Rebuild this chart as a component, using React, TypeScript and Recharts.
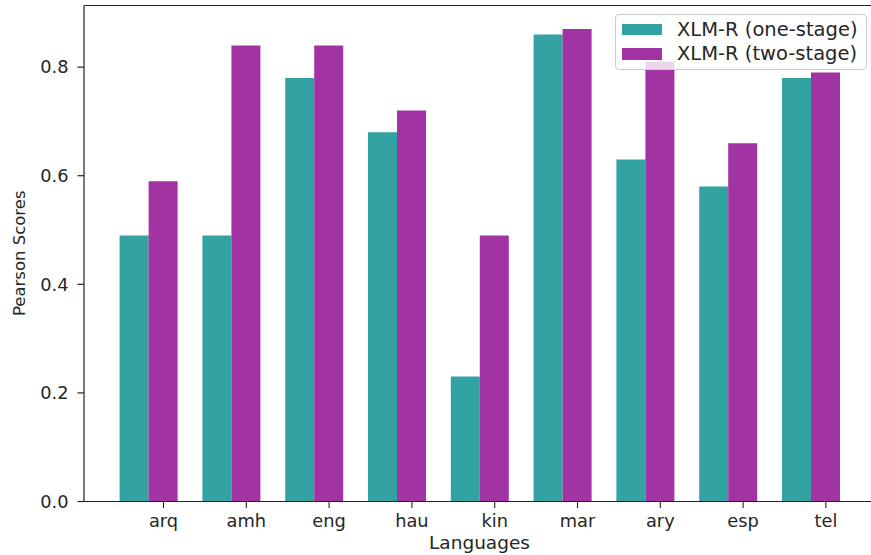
import React from 'react';
import { BarChart, Bar, XAxis, YAxis, ReferenceLine } from 'recharts';

const languages = ['arq', 'amh', 'eng', 'hau', 'kin', 'mar', 'ary', 'esp', 'tel'];
const oneStage = [0.49, 0.49, 0.78, 0.68, 0.23, 0.86, 0.63, 0.58, 0.78];
const twoStage = [0.59, 0.84, 0.84, 0.72, 0.49, 0.87, 0.81, 0.66, 0.79];
const yTicks = [0, 0.2, 0.4, 0.6, 0.8];
const Y_MAX = 0.9135;

const seriesNames = ['XLM-R (one-stage)', 'XLM-R (two-stage)'];
const TEAL = '#33A2A2';
const PURPLE = '#A233A2';
const FONT = '"DejaVu Sans", sans-serif';
const BAR = 29;

const data = languages.map((lang, i) => ({
  lang,
  one: oneStage[i],
  two: twoStage[i],
}));

const XTick = (props: any) => {
  const { x, y, payload } = props;
  const cx = x + BAR / 2;
  return (
    <g>
      <line x1={cx} x2={cx} y1={y} y2={y + 6.5} stroke="#222" strokeWidth={1.1} />
      <text x={cx} y={y + 25.5} textAnchor="middle" fontFamily={FONT} fontSize={17.8} fill="#262626">
        {payload.value}
      </text>
    </g>
  );
};

const LegendBox = () => (
  <div
    style={{
      position: 'absolute',
      left: 615,
      top: 14,
      width: 252,
      height: 56,
      boxSizing: 'border-box',
      background: 'rgba(255,255,255,0.8)',
      border: '1px solid #cccccc',
      borderRadius: 4,
      fontFamily: FONT,
      fontSize: 19.5,
      color: '#262626',
    }}
  >
    {seriesNames.map((name, i) => (
      <div
        key={name}
        style={{ position: 'absolute', left: 0, top: 2 + i * 24.8, height: 24.8, width: 250, display: 'flex', alignItems: 'center' }}
      >
        <div style={{ position: 'absolute', left: 6, width: 39.5, height: 11.5, background: i === 0 ? TEAL : PURPLE }} />
        <div style={{ position: 'absolute', left: 61, lineHeight: 1, whiteSpace: 'nowrap' }}>{name}</div>
      </div>
    ))}
  </div>
);

export default function App() {
  return (
    <div style={{ position: 'absolute', left: 0, top: 0, width: 871, height: 555, overflow: 'hidden', background: '#fff' }}>
      <BarChart
        width={880}
        height={555}
        data={data}
        margin={{ top: 5.5, right: 3.6, bottom: 0, left: 0 }}
        barGap={0}
      >
        <XAxis
          dataKey="lang"
          type="category"
          height={53.5}
          padding={{ left: 23.6, right: 23.6 }}
          tickLine={false}
          tickSize={0}
          tickMargin={0}
          tick={<XTick />}
          stroke="#222"
          strokeWidth={1.2}
          interval={0}
          label={{
            content: () => (
              <text x={479.5} y={549.3} textAnchor="middle" fontFamily={FONT} fontSize={18.5} fill="#262626">
                Languages
              </text>
            ),
          }}
        />
        <YAxis
          type="number"
          domain={[0, Y_MAX]}
          ticks={yTicks}
          width={84}
          tickSize={6.5}
          tickMargin={9}
          tickFormatter={(v: number) => v.toFixed(1)}
          tick={{ fontFamily: FONT, fontSize: 17.8, fill: '#262626' }}
          stroke="#222"
          strokeWidth={1.2}
          allowDataOverflow
          label={{
            content: () => (
              <text transform="translate(25,253.3) rotate(-90)" textAnchor="middle" fontFamily={FONT} fontSize={16.5} fill="#262626">
                Pearson Scores
              </text>
            ),
          }}
        />
        <ReferenceLine y={Y_MAX} stroke="#222" strokeWidth={1.2} ifOverflow="visible" />
        <Bar dataKey="one" name={seriesNames[0]} fill={TEAL} barSize={BAR} isAnimationActive={false} />
        <Bar dataKey="two" name={seriesNames[1]} fill={PURPLE} barSize={BAR} isAnimationActive={false} />
      </BarChart>
      <LegendBox />
    </div>
  );
}
